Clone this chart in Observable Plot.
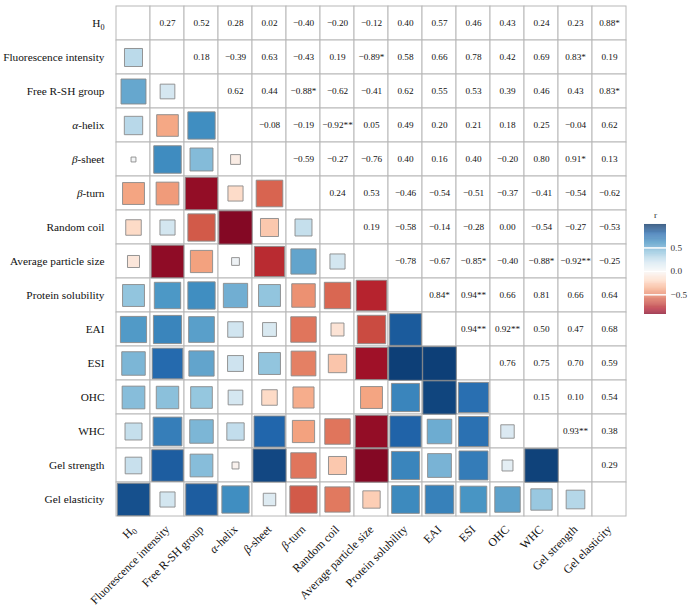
<!DOCTYPE html>
<html>
<head>
<meta charset="utf-8">
<script src="https://cdn.jsdelivr.net/npm/d3@7"></script>
<script src="https://cdn.jsdelivr.net/npm/@observablehq/plot@0.6"></script>
<style>
  html, body { margin: 0; padding: 0; background: #fff; }
  #wrap { position: relative; width: 689px; height: 608px; overflow: hidden; }
  #legend { position: absolute; left: 630px; top: 200px; }
</style>
</head>
<body>
<div id="wrap"><div id="main"></div><div id="legend"></div></div>
<script>
// Variables (categories)
const vars = ["H0", "Fluorescence intensity", "Free R-SH group", "α-helix", "β-sheet", "β-turn",
  "Random coil", "Average particle size", "Protein solubility", "EAI", "ESI", "OHC", "WHC",
  "Gel strength", "Gel elasticity"];

// Upper-triangle correlation values: row i lists r for columns i+1 .. 14
const upper = [
  [0.27, 0.52, 0.28, 0.02, -0.40, -0.20, -0.12, 0.40, 0.57, 0.46, 0.43, 0.24, 0.23, 0.88],
  [0.18, -0.39, 0.63, -0.43, 0.19, -0.89, 0.58, 0.66, 0.78, 0.42, 0.69, 0.83, 0.19],
  [0.62, 0.44, -0.88, -0.62, -0.41, 0.62, 0.55, 0.53, 0.39, 0.46, 0.43, 0.83],
  [-0.08, -0.19, -0.92, 0.05, 0.49, 0.20, 0.21, 0.18, 0.25, -0.04, 0.62],
  [-0.59, -0.27, -0.76, 0.40, 0.16, 0.40, -0.20, 0.80, 0.91, 0.13],
  [0.24, 0.53, -0.46, -0.54, -0.51, -0.37, -0.41, -0.54, -0.62],
  [0.19, -0.58, -0.14, -0.28, 0.00, -0.54, -0.27, -0.53],
  [-0.78, -0.67, -0.85, -0.40, -0.88, -0.92, -0.25],
  [0.84, 0.94, 0.66, 0.81, 0.66, 0.64],
  [0.94, 0.92, 0.50, 0.47, 0.68],
  [0.76, 0.75, 0.70, 0.59],
  [0.15, 0.10, 0.54],
  [0.93, 0.38],
  [0.29]
];

// Significance marks: [row, column, mark]
const stars = [[0,14,"*"],[1,7,"*"],[1,13,"*"],[2,5,"*"],[2,14,"*"],[3,6,"**"],[4,13,"*"],
  [7,10,"*"],[7,12,"*"],[7,13,"**"],[8,9,"*"],[8,10,"**"],[9,10,"**"],[9,11,"**"],[12,13,"**"]];

// Legend range (data range incl. diagonal) and ticks
const legendDomain = [-0.92, 1];
const legendTicks = [-0.5, 0, 0.5];

// ---- build tables ----
const starOf = new Map(stars.map(([i, j, s]) => [i + "," + j, s]));
const fmt = v => (v < 0 ? "\u2212" : "") + Math.abs(v).toFixed(2);
const allCells = [];
const lower = [];
const texts = [];
for (let i = 0; i < vars.length; i++) {
  for (let j = 0; j < vars.length; j++) {
    allCells.push({x: vars[j], y: vars[i]});
    if (i < j) {
      const v = upper[i][j - i - 1];
      texts.push({x: vars[j], y: vars[i], label: fmt(v) + (starOf.get(i + "," + j) || "")});
    } else if (i > j) {
      const v = upper[j][i - j - 1];
      lower.push({x: vars[j], y: vars[i], v});
    }
  }
}

const serif = "'Liberation Serif', 'Times New Roman', serif";
const cellSize = 520 / vars.length;
// RdBu (11-class) ramp, piecewise-linear from -1 to 1 with white at 0
const rdbu11 = ["#67001f", "#b2182b", "#d6604d", "#f4a582", "#fddbc7", "#f7f7f7",
  "#d1e5f0", "#92c5de", "#4393c3", "#2166ac", "#053061"];
const colorScale = {type: "linear", domain: rdbu11.map((c, k) => -1 + k * 0.2), range: rdbu11,
  interpolate: "lab", clamp: true};

const main = Plot.plot({
  width: 689,
  height: 608,
  marginLeft: 111,
  marginRight: 58,
  marginTop: 1,
  marginBottom: 87,
  style: {fontFamily: serif, background: "white", color: "#111"},
  x: {type: "band", domain: vars, padding: 0, axis: null, label: null},
  y: {type: "band", domain: vars, padding: 0, axis: null, label: null},
  r: {type: "sqrt", domain: [0, 1], range: [0, cellSize / Math.sqrt(Math.PI)]},
  color: colorScale,
  marks: [
    Plot.cell(allCells, {x: "x", y: "y", fill: "white", stroke: "#b8b8b8", strokeWidth: 1}),
    Plot.dot(lower, {x: "x", y: "y", r: d => Math.abs(d.v), fill: "v", symbol: "square",
      stroke: "#8a8a8a", strokeWidth: 0.9}),
    Plot.text(texts, {x: "x", y: "y", text: "label", fontSize: 9.2, fill: "#111"}),
    Plot.axisY({domain: vars, tickSize: 0, tickPadding: 7, fontSize: 11.3, label: null}),
    Plot.axisX({domain: vars, tickSize: 0, tickPadding: 6, fontSize: 11.8, tickRotate: -45, label: null})
  ]
});
document.getElementById("main").appendChild(main);

// Rich text for tick labels: italic Greek letters, subscript 0 in H0
d3.select(main).selectAll("g[aria-label$='tick label'] text").each(function() {
  const t = d3.select(this);
  const s = t.text();
  if (s === "H0") {
    t.text("H");
    t.append("tspan").attr("font-size", "0.72em").attr("dy", "0.3em").text("0");
  } else if (s[0] === "α" || s[0] === "β") {
    t.text("");
    t.append("tspan").attr("font-style", "italic").text(s[0]);
    t.append("tspan").text(s.slice(1));
  }
});

// ---- colour bar legend ----
const nSteps = 192;
const stepH = (legendDomain[1] - legendDomain[0]) / nSteps;
const steps = d3.range(0, nSteps).map(k => legendDomain[0] + stepH * k);
const legend = Plot.plot({
  width: 59,
  height: 120,
  marginLeft: 14,
  marginRight: 23,
  marginTop: 24,
  marginBottom: 6,
  style: {fontFamily: serif, background: "transparent", color: "#333"},
  x: {domain: [0, 1], axis: null},
  y: {domain: legendDomain, axis: null},
  color: colorScale,
  marks: [
    Plot.rect(steps, {x1: 0, x2: 1, y1: d => d, y2: d => d + stepH * 1.05, fill: d => d + stepH / 2}),
    Plot.tickY(legendTicks, {y: d => d, x1: 0, x2: 0.18, stroke: "white", strokeWidth: 1}),
    Plot.tickY(legendTicks, {y: d => d, x1: 0.82, x2: 1, stroke: "white", strokeWidth: 1}),
    Plot.axisY(legendTicks, {anchor: "right", tickSize: 0, tickPadding: 4, fontSize: 9.2,
      tickFormat: d3.format(".1f"), label: null}),
    Plot.text(["r"], {frameAnchor: "top", dy: -13, text: d => d, fontSize: 9.2, fill: "#333"})
  ]
});
document.getElementById("legend").appendChild(legend);
</script>
</body>
</html>
